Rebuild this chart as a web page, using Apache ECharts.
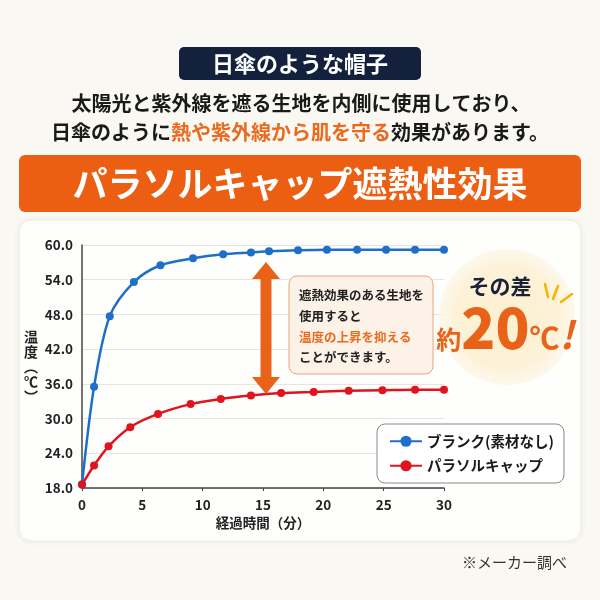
<!DOCTYPE html>
<html><head><meta charset="utf-8">
<script src="https://cdn.jsdelivr.net/npm/echarts@6/dist/echarts.min.js"></script>
<style>html,body{margin:0;padding:0;background:#faf8f3;}#c{width:600px;height:600px;}</style>
</head><body><div id="c"></div>
<script>
// ---- data ----
const seriesNames = ['ブランク(素材なし)', 'パラソルキャップ'];
const blankTimes = [0, 1.0, 2.3, 4.3, 6.5, 9.2, 11.7, 14.0, 15.5, 17.9, 20.3, 22.8, 25.2, 27.6, 30];
const blankTemps = [18.6, 35.5, 47.7, 53.6, 56.5, 57.7, 58.4, 58.7, 58.9, 59.1, 59.2, 59.2, 59.2, 59.2, 59.2];
const capTimes = [0, 1.0, 2.2, 4.0, 6.3, 9.0, 11.5, 14.0, 16.5, 19.2, 22.1, 24.9, 27.6, 30];
const capTemps = [18.6, 21.9, 25.2, 28.5, 30.8, 32.5, 33.4, 34.0, 34.4, 34.6, 34.8, 34.9, 35.0, 35.0];
const yTicks = [18, 24, 30, 36, 42, 48, 54, 60];
const xTicks = [0, 5, 10, 15, 20, 25, 30];

const FONT = '"Noto Sans CJK JP", "Noto Sans", sans-serif';
const pair = (xs, ys) => xs.map((x, i) => [x, ys[i]]);

const chart = echarts.init(document.getElementById('c'));
chart.setOption({
  backgroundColor: '#faf8f3',
  textStyle: { fontFamily: FONT },
  grid: { left: 82, right: 156, top: 245, bottom: 112 },
  xAxis: {
    type: 'value', min: xTicks[0], max: xTicks[xTicks.length - 1], interval: 5,
    name: '経過時間（分）', nameLocation: 'middle', nameGap: 28,
    nameTextStyle: { fontFamily: FONT, fontSize: 13.5, fontWeight: 'bold', color: '#222' },
    axisLine: { lineStyle: { color: '#444', width: 1.5 } },
    axisTick: { show: true, length: 3, lineStyle: { color: '#444' } },
    axisLabel: { fontFamily: FONT, fontSize: 13.5, fontWeight: 'bold', color: '#222', margin: 10 },
    splitLine: { show: false }
  },
  yAxis: {
    type: 'value', min: yTicks[0], max: yTicks[yTicks.length - 1], interval: 6,
    name: '温\n度\n︵\n℃\n︶', nameLocation: 'middle', nameGap: 44, nameRotate: 0,
    nameTextStyle: { fontFamily: FONT, fontSize: 14, fontWeight: 'bold', color: '#222', lineHeight: 15 },
    axisLine: { show: true, lineStyle: { color: '#444', width: 1.5 } },
    axisTick: { show: false },
    axisLabel: { fontFamily: FONT, fontSize: 13.5, fontWeight: 'bold', color: '#222', margin: 9,
      formatter: v => v.toFixed(1) },
    splitLine: { lineStyle: { color: '#e6e4df', width: 1 } }
  },
  legend: {
    orient: 'vertical', left: 377, top: 424, width: 186,
    padding: [10, 10, 10, 12], itemGap: 10, itemWidth: 32, itemHeight: 14,
    backgroundColor: '#ffffff', borderColor: '#8a8a8a', borderWidth: 1, borderRadius: 8,
    textStyle: { fontFamily: FONT, fontSize: 14.5, fontWeight: 'bold', color: '#1a1a1a' },
    data: seriesNames
  },
  series: [
    { name: seriesNames[0], type: 'line', data: pair(blankTimes, blankTemps), smooth: 0.3,
      symbol: 'circle', symbolSize: 8, color: '#1f6fc9', lineStyle: { width: 2.5 }, z: 3 },
    { name: seriesNames[1], type: 'line', data: pair(capTimes, capTemps), smooth: 0.3,
      symbol: 'circle', symbolSize: 8, color: '#e0141e', lineStyle: { width: 2.5 }, z: 3 }
  ],
  graphic: [
    // chart card
    { type: 'rect', z: -10, shape: { x: 19, y: 220, width: 562, height: 321, r: 12 },
      style: { fill: '#fefefc', stroke: '#eeebe4', lineWidth: 1, shadowBlur: 6, shadowColor: 'rgba(0,0,0,0.06)' } },
    // navy badge
    { type: 'rect', z: 5, shape: { x: 179, y: 47, width: 242, height: 33, r: 5 }, style: { fill: '#13213d' } },
    { type: 'text', z: 6, x: 300, y: 64, style: { text: '日傘のような帽子', fill: '#ffffff',
      font: 'bold 22px ' + FONT, align: 'center', verticalAlign: 'middle' } },
    { type: 'text', z: 6, x: 301, y: 103, style: { text: '太陽光と紫外線を遮る生地を内側に使用しており、', fill: '#1a1a1a',
      font: 'bold 20px ' + FONT, align: 'center', verticalAlign: 'middle' } },
    { type: 'text', z: 6, x: 300, y: 132, style: {
      text: '{n|日傘のように}{o|熱や紫外線から肌を守る}{n|効果があります。}',
      align: 'center', verticalAlign: 'middle',
      rich: { n: { font: 'bold 20px ' + FONT, fill: '#1a1a1a' }, o: { font: 'bold 20px ' + FONT, fill: '#ea6a1f' } } } },
    // orange banner
    { type: 'rect', z: 5, shape: { x: 19, y: 155, width: 562, height: 57, r: 6 }, style: { fill: '#ec5e12' } },
    { type: 'text', z: 6, x: 300, y: 184, style: { text: 'パラソルキャップ遮熱性効果', fill: '#ffffff',
      font: 'bold 35px ' + FONT, align: 'center', verticalAlign: 'middle' } },
    // double arrow
    { type: 'polygon', z: 8, shape: { points: [[266, 262], [280, 279], [271.5, 279], [271.5, 377], [280, 377], [266, 394], [252, 377], [260.5, 377], [260.5, 279], [252, 279]] },
      style: { fill: '#e8621a' } },
    // annotation box
    { type: 'rect', z: 8, shape: { x: 289, y: 276, width: 144, height: 98, r: 8 },
      style: { fill: '#fdf2e7', stroke: '#e9a47c', lineWidth: 1 } },
    { type: 'text', z: 9, x: 299, y: 295, style: { text: '遮熱効果のある生地を', fill: '#222', font: 'bold 12.5px ' + FONT, verticalAlign: 'middle' } },
    { type: 'text', z: 9, x: 299, y: 316, style: { text: '使用すると', fill: '#222', font: 'bold 12.5px ' + FONT, verticalAlign: 'middle' } },
    { type: 'text', z: 9, x: 299, y: 337, style: { text: '温度の上昇を抑える', fill: '#ea6a1f', font: 'bold 12.5px ' + FONT, verticalAlign: 'middle' } },
    { type: 'text', z: 9, x: 299, y: 357, style: { text: 'ことができます。', fill: '#222', font: 'bold 12.5px ' + FONT, verticalAlign: 'middle' } },
    // circle badge
    { type: 'circle', z: 7, shape: { cx: 507, cy: 317, r: 68 },
      style: { fill: { type: 'radial', x: 0.5, y: 0.5, r: 0.5, colorStops: [
        { offset: 0, color: '#fdf0cf' }, { offset: 0.75, color: '#fdf2d8' }, { offset: 1, color: 'rgba(253,244,225,0.6)' }] } } },
    { type: 'text', z: 9, x: 500, y: 286, style: { text: 'その差', fill: '#1a2238', font: 'bold 21px ' + FONT, align: 'center', verticalAlign: 'middle' } },
    { type: 'text', z: 9, x: 505, y: 328, style: {
      text: '{a|約}{b|20}{c|℃}{d|!}', align: 'center', verticalAlign: 'middle',
      rich: {
        a: { font: 'bold 25px ' + FONT, fill: '#e8621a', verticalAlign: 'bottom', padding: [0, 0, 4, 0] },
        b: { font: '900 56px ' + FONT, fill: '#e8621a', verticalAlign: 'bottom' },
        c: { font: 'bold 30px ' + FONT, fill: '#e8621a', verticalAlign: 'bottom', padding: [0, 0, 3, 0] },
        d: { font: 'italic bold 38px ' + FONT, fill: '#e8621a', verticalAlign: 'bottom', padding: [0, 0, 2, 0] }
      } } },
    // sparkle lines
    { type: 'line', z: 9, shape: { x1: 545, y1: 284, x2: 548, y2: 297 }, style: { stroke: '#f4b400', lineWidth: 2.5, lineCap: 'round' } },
    { type: 'line', z: 9, shape: { x1: 558, y1: 286, x2: 553, y2: 299 }, style: { stroke: '#f4b400', lineWidth: 2.5, lineCap: 'round' } },
    { type: 'line', z: 9, shape: { x1: 572, y1: 294, x2: 561, y2: 302 }, style: { stroke: '#f4b400', lineWidth: 2.5, lineCap: 'round' } },
    // source note
    { type: 'text', z: 6, x: 567, y: 562, style: { text: '※メーカー調べ', fill: '#333', font: '15px ' + FONT, align: 'right', verticalAlign: 'middle' } }
  ]
});
</script>
</body></html>
